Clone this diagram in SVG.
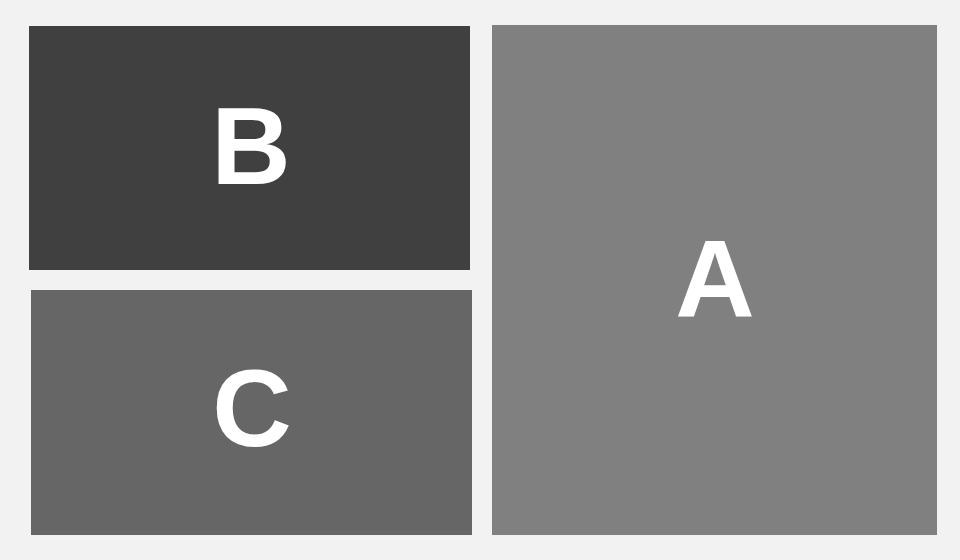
<svg xmlns="http://www.w3.org/2000/svg" width="960" height="560" viewBox="0 0 960 560">
<style>
.lbl{font-family:"Liberation Sans",Arial,sans-serif;font-weight:bold;font-size:110px;fill:#ffffff;text-anchor:middle}
</style>
<rect x="0" y="0" width="960" height="560" fill="#f2f2f2"/>
<g id="node-B">
<rect x="29" y="26" width="441" height="244" fill="#404040"/>
<text class="lbl" x="251" y="184">B</text>
</g>
<g id="node-C">
<rect x="31" y="290" width="441" height="245" fill="#666666"/>
<text class="lbl" x="252" y="446">C</text>
</g>
<g id="node-A">
<rect x="492" y="25" width="445" height="510" fill="#808080"/>
<text class="lbl" x="715" y="316">A</text>
</g>
<g id="connectors"/>
</svg>
